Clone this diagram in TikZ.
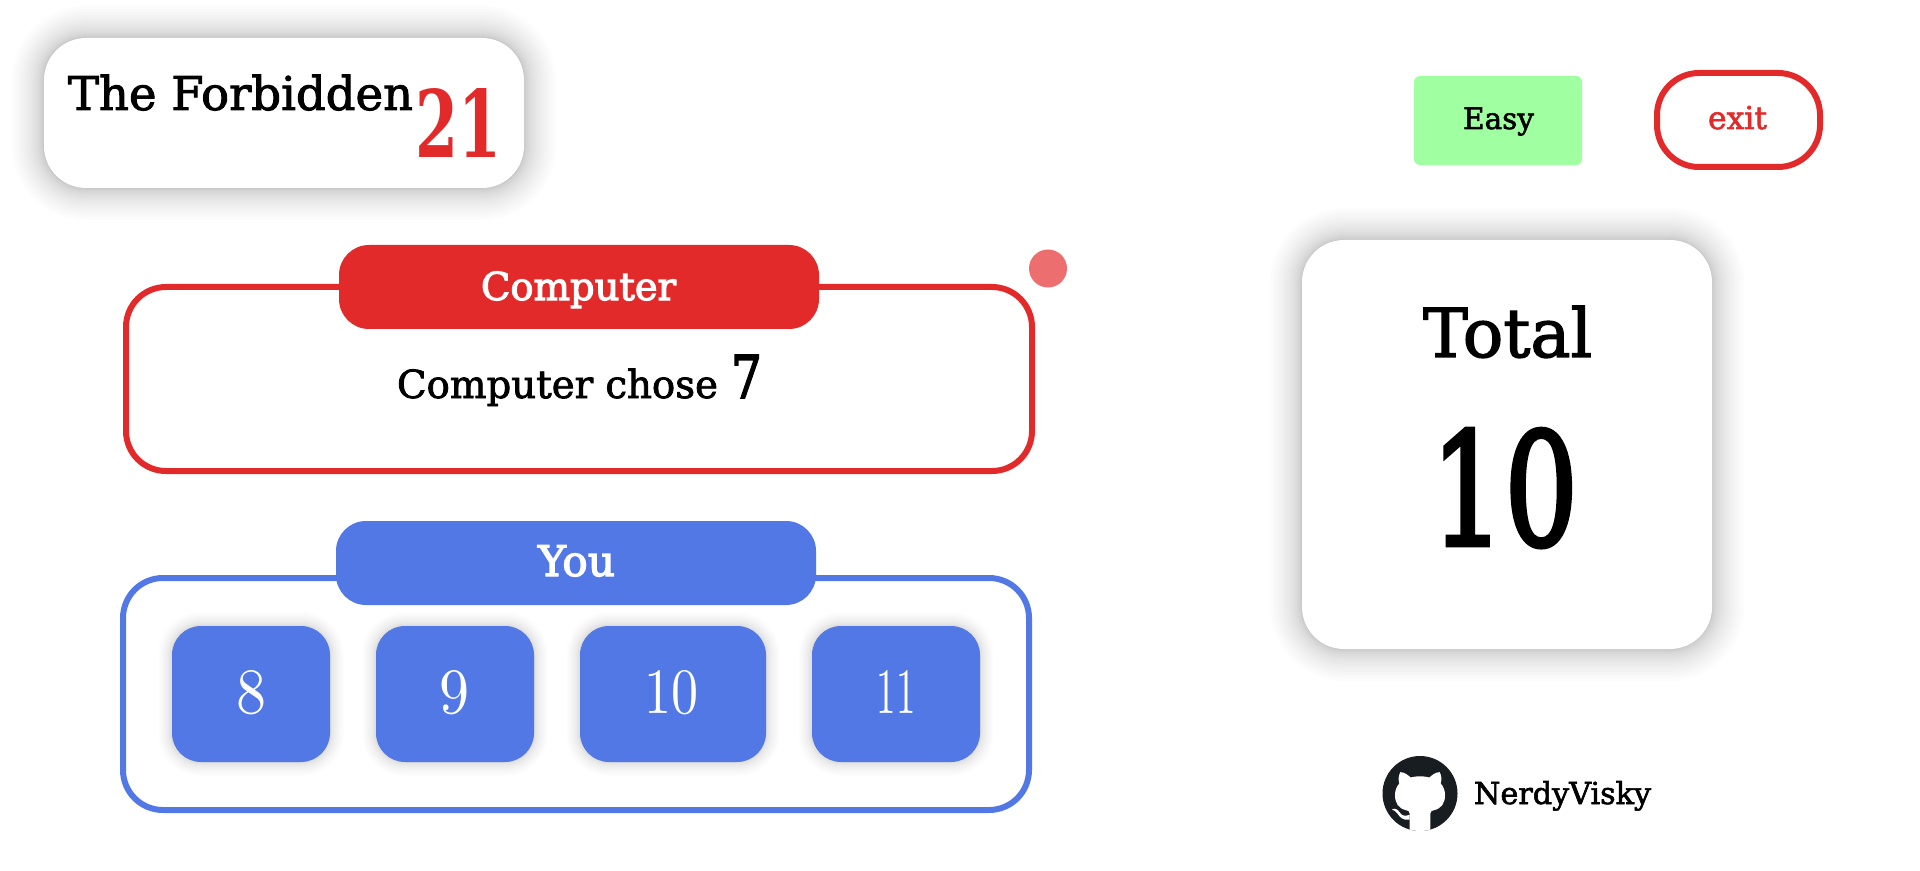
\documentclass[tikz,border=0pt]{standalone}
\usepackage{graphicx}
\usepackage{fontspec}
\newfontfamily\slab[FakeBold=2]{DejaVu Serif}
\newfontfamily\slabh[FakeBold=3]{DejaVu Serif}
\newfontfamily\slabb{DejaVu Serif Bold}
\definecolor{gred}{HTML}{E32A2A}
\definecolor{gblue}{HTML}{5278E6}
\definecolor{ggreen}{HTML}{A0FFA0}
\definecolor{gdot}{HTML}{EC6E6E}
\definecolor{gcat}{HTML}{181D21}
% width in px (1px = 0.5pt)
\newdimen\pxu \pxu=0.5pt
\newcommand{\fitw}[2]{\resizebox{#1\pxu}{!}{\slab #2}}
\newcommand{\fitwb}[2]{\resizebox{#1\pxu}{!}{\slabh #2}}
\newcommand{\fitwh}[3]{\resizebox{#1\pxu}{#2\pxu}{\slabb #3}}
\newcommand{\fitwm}[3]{\resizebox{#1\pxu}{#2\pxu}{\slabh #3}}
\newcommand{\fitthin}[3]{\resizebox{#1\pxu}{#2\pxu}{#3}}
% x1 y1 x2 y2 radius spread opacity
\newcommand{\softshadow}[7]{%
  \foreach \i in {1,...,20}{%
    \pgfmathsetmacro\ee{#6*(\i/20)^2}%
    \pgfmathsetmacro\rr{(#5+\ee)*0.5}%
    \fill[black,opacity=#7,rounded corners=\rr pt]
      ({#1-\ee},{#2-\ee}) rectangle ({#3+\ee},{#4+\ee});
  }}
\tikzset{
  px/.style={x=0.5pt,y=-0.5pt},
  txt/.style={inner sep=0pt,outer sep=0pt,anchor=base},
  txtw/.style={inner sep=0pt,outer sep=0pt,anchor=base west},
  box/.style={rectangle,inner sep=0pt,outer sep=0pt},
  card/.style={box,fill=white,rounded corners=21pt},
  redframe/.style={box,draw=gred,line width=3pt,fill=white,rounded corners=20pt},
  blueframe/.style={box,draw=gblue,line width=3pt,fill=white,rounded corners=20pt},
  redhead/.style={box,fill=gred,rounded corners=15pt},
  bluehead/.style={box,fill=gblue,rounded corners=15pt},
  numbtn/.style={box,fill=gblue,rounded corners=14.5pt},
}
\begin{document}
\begin{tikzpicture}[px]
\useasboundingbox (0,0) rectangle (1920,871);
\fill[white] (0,0) rectangle (1920,871);

% title card
\softshadow{44}{38}{524}{188}{42}{32}{0.010}
\node[card,minimum width=240pt,minimum height=75pt] (titlecard) at (284,113) {};
\node[txtw] (titletext) at (68,110) {\fitw{345}{The Forbidden}};
\node[txtw,text=gred] (titlenum) at (415,158) {\fitwh{86}{69}{21}};

% top right buttons
\node[box,fill=ggreen,rounded corners=3pt,minimum width=84pt,minimum height=44.5pt] (easybtn) at (1498,120.5) {};
\node[txt] (easytext) at (1498.5,129) {\fitw{71}{Easy}};
\node[box,draw=gred,line width=3pt,rounded corners=21pt,minimum width=81.5pt,minimum height=47pt] (exitbtn) at (1738.5,120) {};
\node[txt,text=gred] (exittext) at (1737.5,129) {\fitw{59}{exit}};

% computer
\node[redframe,minimum width=453pt,minimum height=92pt] (compbox) at (579,379) {};
\node[redhead,minimum width=240pt,minimum height=42pt] (comphead) at (579,287) {};
\node[txt,text=white] (comptitle) at (578.5,300) {\fitwb{195}{Computer}};
\node[txtw] (compchose) at (397,398) {\fitw{321}{Computer chose}};
\node[txtw] (compnum) at (731,398) {\fitwm{31}{43}{7}};
\node[circle,fill=gdot,inner sep=0pt,minimum size=19pt] (dot) at (1048,268.5) {};

% you
\node[blueframe,minimum width=453pt,minimum height=116pt] (youbox) at (576,694) {};
\node[bluehead,minimum width=240pt,minimum height=42pt] (youhead) at (576,563) {};
\node[txt,text=white] (youtitle) at (576.5,576) {\fitwb{77}{You}};

% number buttons
\softshadow{172}{626}{330}{762}{29}{14}{0.007}
\softshadow{376}{626}{534}{762}{29}{14}{0.007}
\softshadow{580}{626}{766}{762}{29}{14}{0.007}
\softshadow{812}{626}{980}{762}{29}{14}{0.007}
\node[numbtn,minimum width=79pt,minimum height=68pt] (b8) at (251,694) {};
\node[numbtn,minimum width=79pt,minimum height=68pt] (b9) at (455,694) {};
\node[numbtn,minimum width=93pt,minimum height=68pt] (b10) at (673,694) {};
\node[numbtn,minimum width=84pt,minimum height=68pt] (b11) at (896,694) {};
\node[txt,text=white] (t8) at (251,713) {\fitthin{30}{43}{8}};
\node[txt,text=white] (t9) at (454,713) {\fitthin{30}{43}{9}};
\node[txt,text=white] (t10) at (671,713) {\fitthin{54}{43}{10}};
\node[txt,text=white] (t11) at (896,713) {\fitthin{39}{43}{11}};

% total card
\softshadow{1302}{240}{1712}{649}{43}{32}{0.010}
\node[card,minimum width=205pt,minimum height=204.5pt] (totalcard) at (1507,444.5) {};
\node[txtw] (totaltext) at (1423,357) {\fitw{169}{Total}};
\node[txtw] (totalnum) at (1431,545) {\fitwm{147}{116}{10}};

% github
\node[circle,fill=gcat,inner sep=0pt,minimum size=37.5pt] (gh) at (1420,793.5) {};
\begin{scope}[shift={(1420,793.5)},x=0.16667pt,y=-0.16667pt]
  \clip (0,0) circle (112.5);
  \fill[white]
    (-31,130) -- (-31,60)
    .. controls (-31,52) and (-36,52) .. (-42,50)
    .. controls (-65,45) and (-75,28) .. (-75,5)
    .. controls (-75,-10) and (-70,-22) .. (-62,-30)
    .. controls (-66,-42) and (-64,-55) .. (-59,-64)
    .. controls (-46,-64) and (-36,-55) .. (-28,-48)
    .. controls (-10,-53) and (10,-53) .. (28,-48)
    .. controls (36,-55) and (46,-64) .. (59,-64)
    .. controls (64,-55) and (66,-42) .. (62,-30)
    .. controls (70,-22) and (75,-10) .. (75,5)
    .. controls (75,28) and (65,45) .. (42,50)
    .. controls (36,52) and (31,52) .. (31,60)
    -- (31,130) -- cycle;
  \fill[white]
    (-31,78) .. controls (-50,82) and (-60,72) .. (-68,60)
    .. controls (-72,54) and (-78,50) .. (-84,48)
    .. controls (-76,42) and (-66,48) .. (-60,58)
    .. controls (-54,68) and (-44,68) .. (-31,64) -- cycle;
\end{scope}
\node[txtw] (ghtext) at (1474,804) {\fitw{177}{NerdyVisky}};
\end{tikzpicture}
\end{document}
